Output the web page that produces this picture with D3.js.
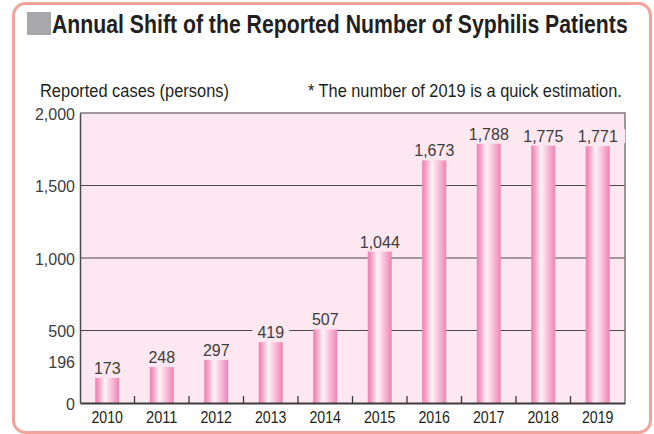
<!DOCTYPE html>
<html>
<head>
<meta charset="utf-8">
<script src="https://cdn.jsdelivr.net/npm/d3@7"></script>
<style>
  html, body { margin: 0; padding: 0; background: #fff; }
  svg { display: block; }
</style>
</head>
<body>
<svg id="chart" width="654" height="434"></svg>
<script>
const years = ["2010","2011","2012","2013","2014","2015","2016","2017","2018","2019"];
const cases = [173, 248, 297, 419, 507, 1044, 1673, 1788, 1775, 1771];
const yTicks = [0, 196, 500, 1000, 1500, 2000];
const gridValues = [500, 1000, 1500];
const titleText = "Annual Shift of the Reported Number of Syphilis Patients";
const yAxisTitle = "Reported cases (persons)";
const noteText = "* The number of 2019 is a quick estimation.";

const svg = d3.select("#chart");
const W = 654, H = 434;
const m = { left: 80, right: 29, top: 113, bottom: 31 };
const pw = W - m.left - m.right, ph = H - m.top - m.bottom;
const font = "'Liberation Sans', Arial, Helvetica, sans-serif";

// fit a text to a target width by horizontal scaling
function fitText(sel, x0, y0, target) {
  const w = sel.node().getComputedTextLength();
  const s = w > 0 ? target / w : 1;
  sel.attr("x", 0).attr("y", 0).attr("transform", `translate(${x0},${y0}) scale(${s},1)`);
}

// outer frame
svg.append("rect").attr("x", 13.5).attr("y", 3.5).attr("width", 637).attr("height", 429)
  .attr("rx", 12).attr("fill", "#fff").attr("stroke", "#f4a39a").attr("stroke-width", 3);

// title
svg.append("rect").attr("x", 27).attr("y", 12).attr("width", 24).attr("height", 23).attr("fill", "#a8a8ab");
const t = svg.append("text").text(titleText)
  .attr("font-family", font).attr("font-weight", "bold").attr("font-size", 25).attr("fill", "#231f20");
fitText(t, 52, 33, 576);

const a1 = svg.append("text").text(yAxisTitle)
  .attr("font-family", font).attr("font-size", 17.5).attr("fill", "#231f20");
fitText(a1, 40, 97, 189);
const a2 = svg.append("text").text(noteText)
  .attr("font-family", font).attr("font-size", 17.5).attr("fill", "#231f20");
fitText(a2, 308, 97, 314);

const x = d3.scaleBand().domain(years).range([m.left, m.left + pw]).paddingInner(0).paddingOuter(0);
const y = d3.scaleLinear().domain([0, 2000]).range([m.top + ph, m.top]);

// gradient
const defs = svg.append("defs");
const grad = defs.append("linearGradient").attr("id", "barGrad").attr("x1", "0%").attr("x2", "100%").attr("y1", "0%").attr("y2", "0%");
[["0%", "#ee7db0"], ["18%", "#f4a9cb"], ["40%", "#fff3f8"], ["50%", "#fde2ee"], ["75%", "#f6b3d1"], ["100%", "#ee83b4"]]
  .forEach(([o, c]) => grad.append("stop").attr("offset", o).attr("stop-color", c));

// plot background
svg.append("rect").attr("x", m.left).attr("y", m.top).attr("width", pw).attr("height", ph).attr("fill", "#fde7f0");

// gridlines
svg.append("g").selectAll("line").data(gridValues).join("line")
  .attr("x1", m.left).attr("x2", m.left + pw)
  .attr("y1", d => y(d)).attr("y2", d => y(d))
  .attr("stroke", "#4a4a4a").attr("stroke-width", 1.2);

// plot frame top/right
svg.append("path").attr("d", `M${m.left},${m.top}H${m.left + pw}V${m.top + ph}`)
  .attr("fill", "none").attr("stroke", "#807a7d").attr("stroke-width", 1.5);

// bars
const bw = 24;
svg.append("g").selectAll("rect").data(years).join("rect")
  .attr("x", d => x(d) + x.bandwidth() / 2 - bw / 2)
  .attr("width", bw)
  .attr("y", (d, i) => y(cases[i]))
  .attr("height", (d, i) => y(0) - y(cases[i]))
  .attr("fill", "url(#barGrad)");

// value labels
const fmt = d3.format(",");
const lab = svg.append("g").selectAll("g").data(years).join("g")
  .attr("transform", (d, i) => `translate(${x(d) + x.bandwidth() / 2},${y(cases[i]) - 4})`);
lab.append("rect").attr("x", (d, i) => -fmt(cases[i]).length * 4.5 - 5).attr("y", -13)
  .attr("width", (d, i) => fmt(cases[i]).length * 9 + 10).attr("height", 14).attr("fill", "#fde7f0");
lab.append("text").attr("text-anchor", "middle").text((d, i) => fmt(cases[i]))
  .attr("font-family", font).attr("font-size", 16).attr("fill", "#403c3d");

// y axis
const yAxis = svg.append("g").attr("transform", `translate(${m.left},0)`)
  .call(d3.axisLeft(y).tickValues(yTicks).tickSize(0).tickPadding(5).tickFormat(d3.format(",")));
yAxis.select(".domain").attr("stroke", "#4a4a4a").attr("stroke-width", 1.5);
yAxis.selectAll("text").attr("font-family", font).attr("font-size", 16).attr("fill", "#403c3d")
  .attr("dy", d => d === 196 ? "-0.45em" : "0.4em");

// x axis
const xAxis = svg.append("g").attr("transform", `translate(0,${m.top + ph})`)
  .call(d3.axisBottom(x).tickSize(0).tickPadding(6));
xAxis.select(".domain").attr("stroke", "#3d3a3b").attr("stroke-width", 2.2);
xAxis.selectAll("text").attr("font-family", font).attr("font-size", 17).attr("fill", "#231f20")
  .attr("dy", "0.8em").attr("textLength", 31.5).attr("lengthAdjust", "spacingAndGlyphs");

// separator ticks between categories
svg.append("g").selectAll("line").data(years.slice(1)).join("line")
  .attr("x1", d => x(d)).attr("x2", d => x(d))
  .attr("y1", y(0)).attr("y2", y(0) - 7)
  .attr("stroke", "#3d3a3b").attr("stroke-width", 1.3);
</script>
</body>
</html>
